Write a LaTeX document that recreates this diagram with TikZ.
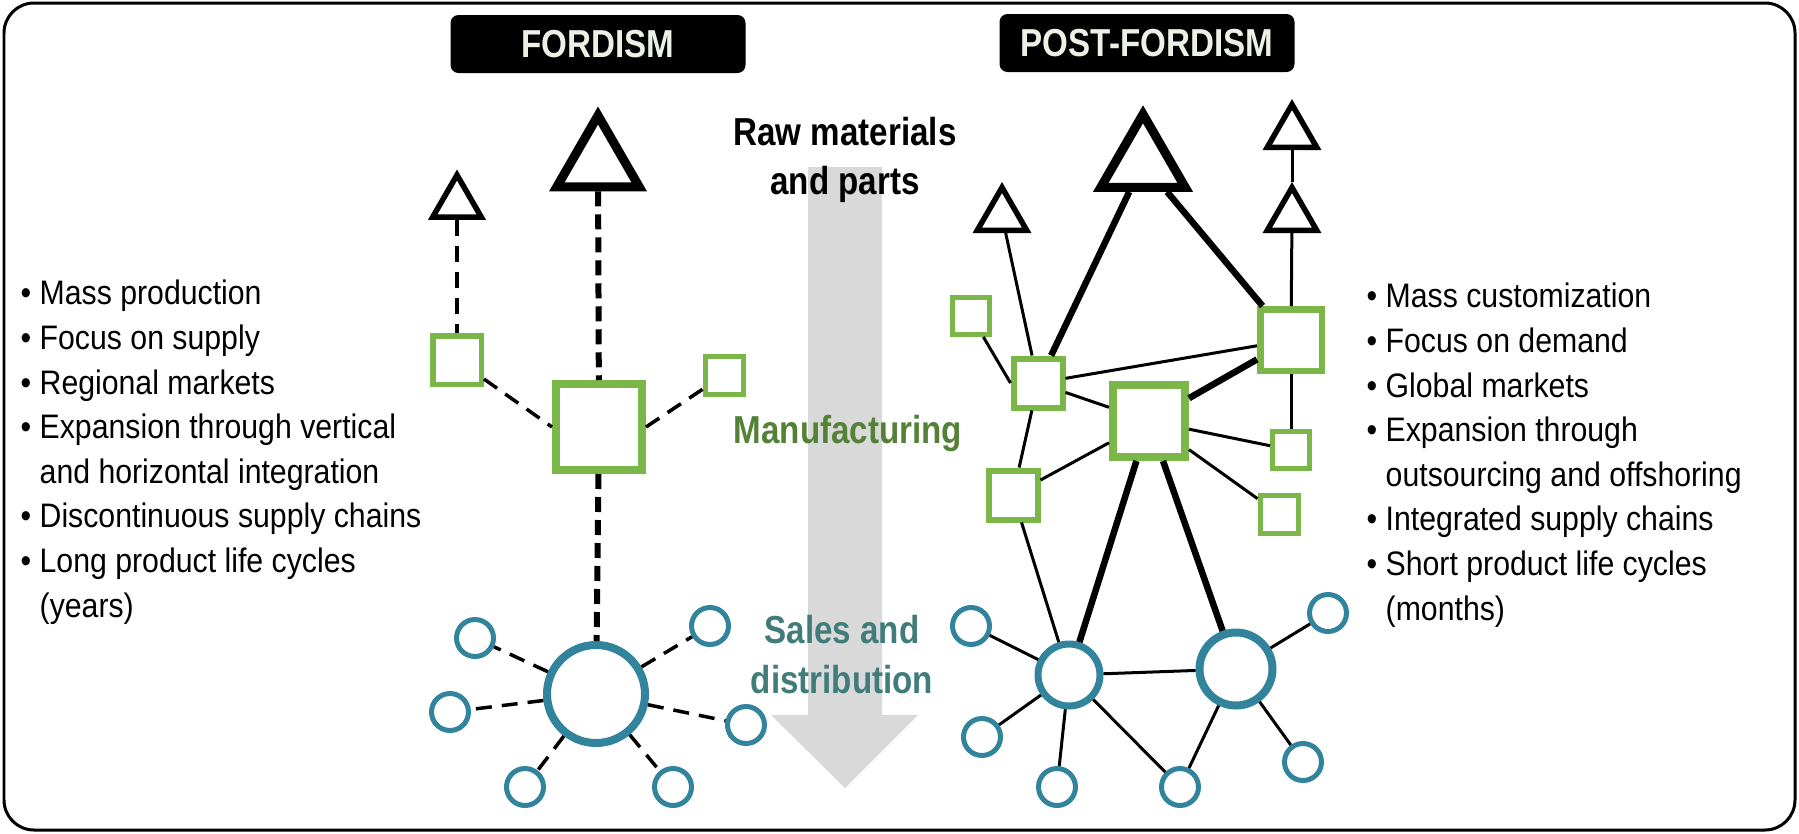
\documentclass[tikz,border=0pt]{standalone}
\usepackage{fontspec}
\setmainfont{Liberation Sans}[FakeStretch=0.89]
\newfontfamily\headfont{Liberation Sans}[FakeStretch=0.85]
\usepackage{xcolor}
\usepackage{tikz}
\usetikzlibrary{shapes.geometric, positioning}

\definecolor{plantgreen}{RGB}{122,182,72}
\definecolor{outletblue}{RGB}{49,132,155}
\definecolor{mfggreen}{RGB}{83,129,53}
\definecolor{salesteal}{RGB}{64,125,122}
\definecolor{titlepale}{RGB}{235,241,228}
\definecolor{flowgray}{RGB}{217,217,217}

\begin{document}
\begin{tikzpicture}[x=0.1mm, y=-0.1mm,
  source/.style={draw=black, fill=white, regular polygon, regular polygon sides=3, inner sep=0pt},
  plant/.style={draw=plantgreen, fill=white, rectangle, inner sep=0pt},
  outlet/.style={draw=outletblue, fill=white, circle, inner sep=0pt},
  heavydash/.style={line width=0.6mm, dash pattern=on 1.5mm off 0.8mm},
  lightdash/.style={line width=0.35mm, dash pattern=on 1.6mm off 1mm},
  link/.style={line width=0.3mm},
  trunk/.style={line width=0.65mm},
  title/.style={fill=black, rounded corners=0.8mm, minimum width=29.5mm, minimum height=5.8mm,
    text=titlepale, font=\headfont\bfseries\fontsize{11.1}{13.7}\selectfont},
  stage/.style={align=center, inner sep=0pt, anchor=base, font=\headfont\bfseries\fontsize{11.1}{13.7}\selectfont},
  traits/.style={align=left, inner sep=0pt, anchor=base west, font=\fontsize{9.67}{12.69}\selectfont}]
\useasboundingbox (0,0) rectangle (1799,833);
% Frame
\draw[line width=0.3mm, rounded corners=3mm] (4,3) rectangle (1795,830);

% Flow arrow (behind the stage labels)
\fill[flowgray] (808,167) -- (882,167) -- (882,715) -- (918,715) -- (845,788) -- (771,715) -- (808,715) -- cycle;

% Titles
\node[title] (fordtitle) at (598,44) {FORDISM};
\node[title] (posttitle) at (1147,43) {POST-FORDISM};

% Stage labels (base = last line)
\node[stage] (rawlabel) at (845,194) {Raw materials\\and parts};
\node[stage, text=mfggreen] (mfglabel) at (848,443) {Manufacturing};
\node[stage, text=salesteal, font=\headfont\bfseries\fontsize{11.1}{14.2}\selectfont] (saleslabel) at (842,693) {Sales and\\distribution};

% Fordism network
\node[source, line width=0.9mm, minimum size=9.5mm] (fbig) at (598,163) {};
\node[source, line width=0.55mm, minimum size=5.6mm] (fsmall) at (457,203) {};
\node[plant, line width=0.55mm, minimum size=4.85mm] (fleft) at (457,360) {};
\node[plant, line width=0.8mm, minimum size=8.6mm] (fmain) at (599,427) {};
\node[plant, line width=0.5mm, minimum size=3.8mm] (fright) at (724,375) {};
\node[outlet, line width=0.8mm, minimum size=9.8mm] (fhub) at (596,694) {};
\node[outlet, line width=0.5mm, minimum size=3.7mm] (fo1) at (475,638) {};
\node[outlet, line width=0.5mm, minimum size=3.7mm] (fo2) at (450,712) {};
\node[outlet, line width=0.5mm, minimum size=3.7mm] (fo3) at (525,787) {};
\node[outlet, line width=0.5mm, minimum size=3.7mm] (fo4) at (673,787) {};
\node[outlet, line width=0.5mm, minimum size=3.7mm] (fo5) at (746,725) {};
\node[outlet, line width=0.5mm, minimum size=3.7mm] (fo6) at (710,626) {};

\draw[heavydash] (fbig) -- (fmain);
\draw[heavydash] (fmain) -- (fhub);
\draw[lightdash] (fsmall) -- (fleft);
\draw[lightdash] (fleft) -- (fmain.west);
\draw[lightdash] (fmain.east) -- (fright);
\draw[lightdash] (fhub) -- (fo1) (fhub) -- (fo2) (fhub) -- (fo3)
  (fhub) -- (fo4) (fhub) -- (fo5) (fhub) -- (fo6);

% Post-Fordism network
\node[source, line width=0.9mm, minimum size=9.75mm] (pbig) at (1143,163) {};
\node[source, line width=0.55mm, minimum size=5.7mm] (pt1) at (1002,216) {};
\node[source, line width=0.55mm, minimum size=5.7mm] (pt2) at (1292,133) {};
\node[source, line width=0.55mm, minimum size=5.7mm] (pt3) at (1292,216) {};
\node[plant, line width=0.5mm, minimum size=3.7mm] (pa) at (971,316) {};
\node[plant, line width=0.6mm, minimum size=4.9mm] (pb) at (1038,383) {};
\node[plant, line width=0.65mm, minimum size=6.15mm] (pc) at (1291,340) {};
\node[plant, line width=0.8mm, minimum size=7.2mm] (pd) at (1149,421) {};
\node[plant, line width=0.6mm, minimum size=4.9mm] (pe) at (1013,495) {};
\node[plant, line width=0.5mm, minimum size=3.7mm] (pf) at (1291,450) {};
\node[plant, line width=0.5mm, minimum size=3.8mm] (pg) at (1279,514) {};
\node[outlet, line width=0.7mm, minimum size=6.2mm] (phl) at (1069,675) {};
\node[outlet, line width=0.8mm, minimum size=7.3mm] (phr) at (1236,669) {};
\node[outlet, line width=0.5mm, minimum size=3.7mm] (po1) at (971,626) {};
\node[outlet, line width=0.5mm, minimum size=3.7mm] (po2) at (982,737) {};
\node[outlet, line width=0.5mm, minimum size=3.7mm] (po3) at (1057,787) {};
\node[outlet, line width=0.5mm, minimum size=3.7mm] (po4) at (1180,787) {};
\node[outlet, line width=0.5mm, minimum size=3.7mm] (po5) at (1303,762) {};
\node[outlet, line width=0.5mm, minimum size=3.7mm] (po6) at (1328,613) {};

\draw[trunk] (pbig) -- (pb);
\draw[trunk] (pbig) -- (pc);
\draw[trunk] (pd) -- (pc);
\draw[trunk] (pd) -- (phl);
\draw[trunk] (pd) -- (phr);
\draw[link] (pt1) -- (pb);
\draw[link] (pt2) -- (pt3);
\draw[link] (pt3) -- (pc);
\draw[link] (pa) -- (pb.west);
\draw[link] (pb) -- (pc);
\draw[link] (pb) -- (pd);
\draw[link] (pb) -- (pe);
\draw[link] (pc) -- (pf);
\draw[link] (pd) -- (pe);
\draw[link] (pd) -- (pf);
\draw[link] (pd) -- (pg);
\draw[link] (pe) -- (phl);
\draw[link] (po1) -- (phl);
\draw[link] (phl) -- (phr);
\draw[link] (phl) -- (po2);
\draw[link] (phl) -- (po3);
\draw[link] (phl) -- (po4);
\draw[link] (phr) -- (po4);
\draw[link] (phr) -- (po5);
\draw[link] (phr) -- (po6);

% Trait lists (base = last line)
\node[traits] (fordtraits) at (20,617) {\textbullet\ Mass production\\
  \textbullet\ Focus on supply\\
  \textbullet\ Regional markets\\
  \textbullet\ Expansion through vertical\\
  \hphantom{\textbullet\ }and horizontal integration\\
  \textbullet\ Discontinuous supply chains\\
  \textbullet\ Long product life cycles\\
  \hphantom{\textbullet\ }(years)};
\node[traits] (posttraits) at (1366,620) {\textbullet\ Mass customization\\
  \textbullet\ Focus on demand\\
  \textbullet\ Global markets\\
  \textbullet\ Expansion through\\
  \hphantom{\textbullet\ }outsourcing and offshoring\\
  \textbullet\ Integrated supply chains\\
  \textbullet\ Short product life cycles\\
  \hphantom{\textbullet\ }(months)};
\end{tikzpicture}
\end{document}
